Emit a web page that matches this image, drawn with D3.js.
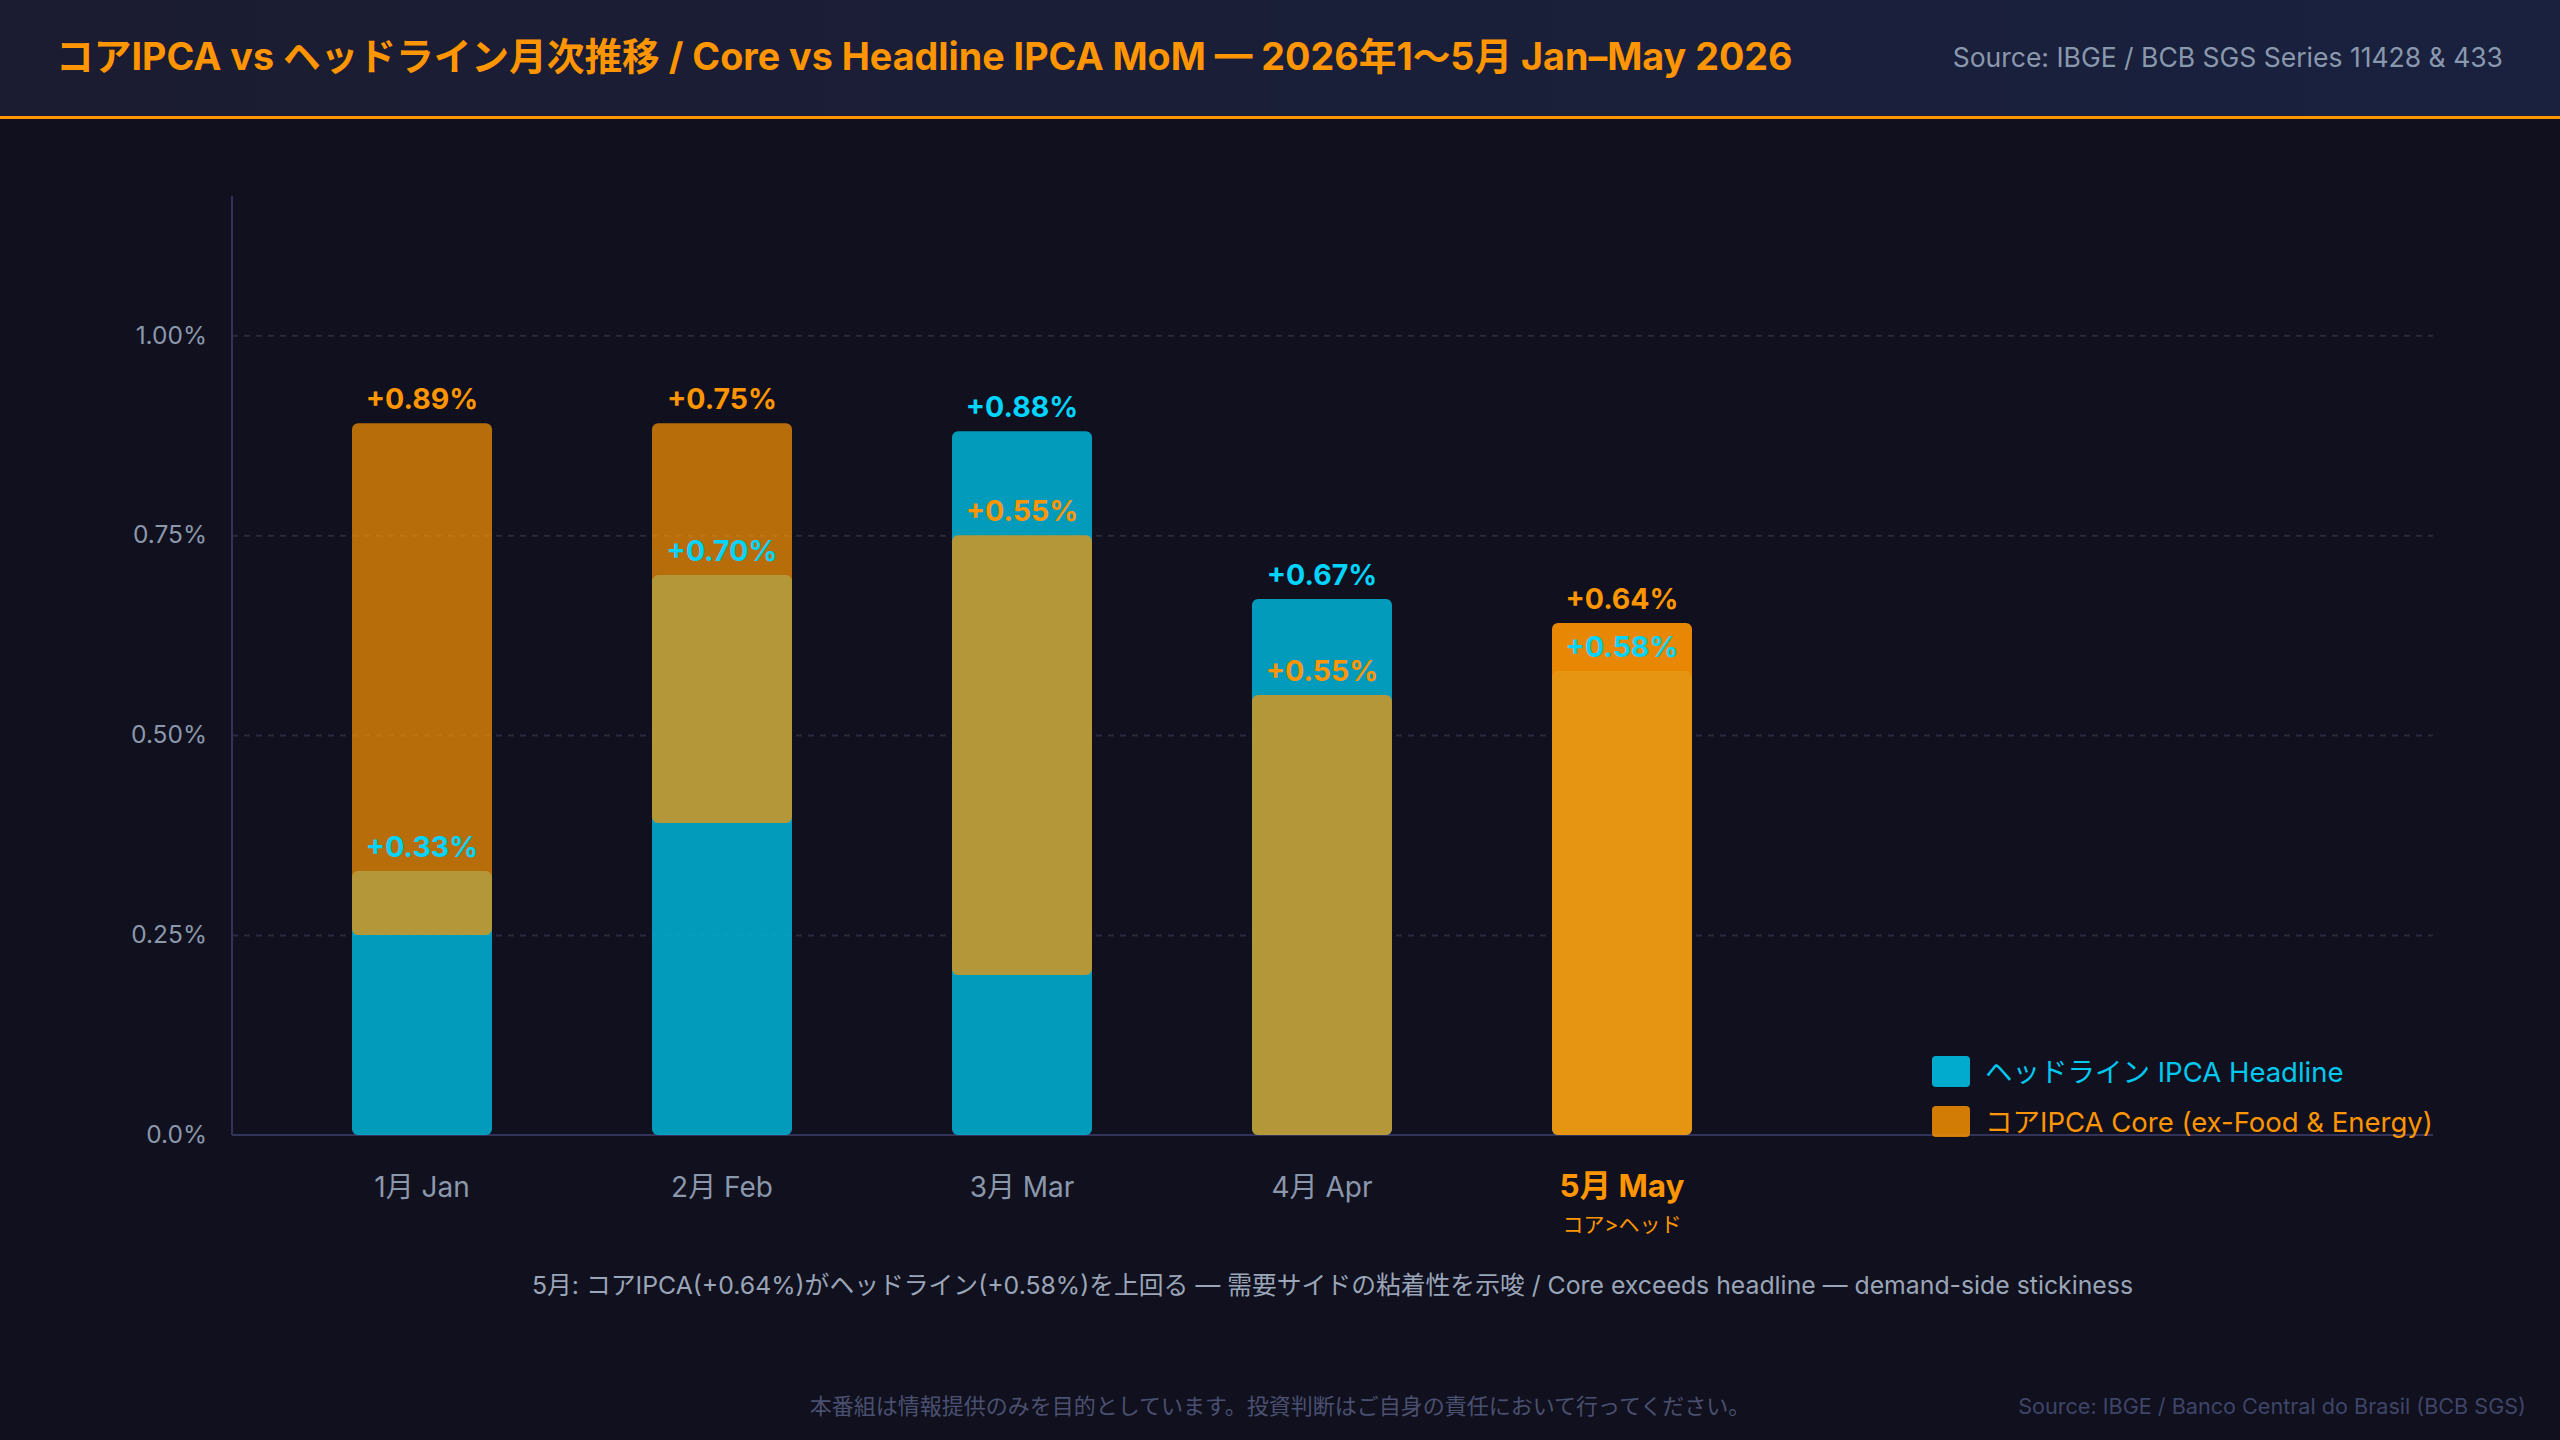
<!DOCTYPE html>
<html>
<head>
<meta charset="utf-8">
<script src="https://cdn.jsdelivr.net/npm/d3@7"></script>
<style>
    html, body { margin: 0; padding: 0; background: #10101e; }
    body { width: 2560px; height: 1440px; overflow: hidden; }
    text { font-family: Inter, "Noto Sans CJK JP", sans-serif; }
</style>
</head>
<body>
<div id="viz"></div>
<script>
"use strict";

// months on the x axis
const months = ["1月 Jan", "2月 Feb", "3月 Mar", "4月 Apr", "5月 May"];
// MoM % values shown in the labels
const headline = [0.33, 0.70, 0.88, 0.67, 0.58];
const core = [0.89, 0.75, 0.55, 0.55, 0.64];
// core bars as they appear in the picture (bottom / top, in %)
const coreBarFrom = [0.25, 0.39, 0.20, 0.00, 0.00];
const coreBarTo = [0.89, 0.89, 0.75, 0.55, 0.64];
// y axis ticks
const yTicks = [0, 0.25, 0.5, 0.75, 1.0];
const yTickLabels = ["0.0%", "0.25%", "0.50%", "0.75%", "1.00%"];

(function(){
    const measurements = {
        width: 2560,
        height: 1440,
        plotLeft: 232,
        plotRight: 2433,
        plotTop: 196,
        plotBottom: 1135
    }
    const colors = {
        bg: "#10101e",
        blue: "#00b4d8",
        blueText: "#00d4ff",
        orange: "#ff9500",
        grid: "#28283f",
        axis: "#33335a",
        tick: "#8b97ab"
    }

    const svg = d3.select("#viz").append("svg")
        .attr("width", measurements.width)
        .attr("height", measurements.height);

    svg.append("rect")
        .attr("width", measurements.width)
        .attr("height", measurements.height)
        .attr("fill", colors.bg);

    drawHeader();
    drawChart();
    drawFooter();

    function drawHeader() {
        const defs = svg.append("defs");
        const grad = defs.append("linearGradient")
            .attr("id", "hdr")
            .attr("x1", "0%").attr("x2", "100%");
        grad.append("stop").attr("offset", "0%").attr("stop-color", "#1b1c31");
        grad.append("stop").attr("offset", "100%").attr("stop-color", "#19213f");

        svg.append("rect")
            .attr("width", measurements.width)
            .attr("height", 116)
            .attr("fill", "url(#hdr)");
        svg.append("rect")
            .attr("y", 116)
            .attr("width", measurements.width)
            .attr("height", 3)
            .attr("fill", colors.orange);

        svg.append("text")
            .attr("x", 56)
            .attr("y", 70)
            .attr("fill", colors.orange)
            .attr("font-size", 37.7)
            .attr("font-weight", 700)
            .text("コアIPCA vs ヘッドライン月次推移 / Core vs Headline IPCA MoM — 2026年1〜5月 Jan–May 2026");

        svg.append("text")
            .attr("x", 2503)
            .attr("y", 67)
            .attr("text-anchor", "end")
            .attr("fill", "#8a98ad")
            .attr("font-size", 26.5)
            .text("Source: IBGE / BCB SGS Series 11428 & 433");
    }

    function drawChart() {
        const x = d3.scaleBand()
            .domain(months)
            .range([272, 1772])
            .paddingInner(0.5333)
            .paddingOuter(0.2667);

        const y = d3.scaleLinear()
            .domain([0, 1.174])
            .range([measurements.plotBottom, measurements.plotTop]);

        // dashed grid
        const grid = svg.append("g")
            .attr("transform", `translate(${measurements.plotLeft},0)`)
            .call(d3.axisLeft(y)
                .tickValues(yTicks.filter(d => d > 0))
                .tickSize(-(measurements.plotRight - measurements.plotLeft))
                .tickFormat(""));
        grid.select(".domain").remove();
        grid.selectAll("line")
            .attr("stroke", colors.grid)
            .attr("stroke-width", 2)
            .attr("stroke-dasharray", "6,6");

        // y axis labels
        const yAxis = svg.append("g")
            .attr("transform", `translate(${measurements.plotLeft},0)`)
            .call(d3.axisLeft(y)
                .tickValues(yTicks)
                .tickSize(0)
                .tickPadding(25)
                .tickFormat((d, i) => yTickLabels[i]));
        yAxis.select(".domain").remove();
        yAxis.selectAll("text")
            .attr("fill", colors.tick)
            .attr("font-size", 24.5)
            .attr("font-family", "Inter, sans-serif");

        // axis lines
        svg.append("line")
            .attr("x1", measurements.plotLeft).attr("x2", measurements.plotLeft)
            .attr("y1", measurements.plotTop).attr("y2", measurements.plotBottom)
            .attr("stroke", colors.axis).attr("stroke-width", 2);
        svg.append("line")
            .attr("x1", measurements.plotLeft).attr("x2", measurements.plotRight)
            .attr("y1", measurements.plotBottom).attr("y2", measurements.plotBottom)
            .attr("stroke", colors.axis).attr("stroke-width", 2);

        const rows = months.map((m, i) => ({
            month: m, head: headline[i], core: core[i],
            from: coreBarFrom[i], to: coreBarTo[i], last: i === months.length - 1
        }));

        // headline bars (back)
        svg.selectAll(".head-bar")
            .data(rows)
            .enter()
            .append("rect")
            .attr("class", "head-bar")
            .attr("x", d => x(d.month))
            .attr("width", x.bandwidth())
            .attr("y", d => y(d.head))
            .attr("height", d => y(0) - y(d.head))
            .attr("rx", 6)
            .attr("fill", colors.blue)
            .attr("fill-opacity", 0.85);

        // core bars (front, translucent)
        svg.selectAll(".core-bar")
            .data(rows)
            .enter()
            .append("rect")
            .attr("class", "core-bar")
            .attr("x", d => x(d.month))
            .attr("width", x.bandwidth())
            .attr("y", d => y(d.to))
            .attr("height", d => y(d.from) - y(d.to))
            .attr("rx", 6)
            .attr("fill", colors.orange)
            .attr("fill-opacity", d => d.last ? 0.9 : 0.7);

        // value labels
        svg.selectAll(".head-label")
            .data(rows)
            .enter()
            .append("text")
            .attr("x", d => x(d.month) + x.bandwidth() / 2)
            .attr("y", d => y(d.head) - 14)
            .attr("text-anchor", "middle")
            .attr("fill", colors.blueText)
            .attr("font-size", 28.5)
            .attr("font-weight", 700)
            .text(d => "+" + d.head.toFixed(2) + "%");

        svg.selectAll(".core-label")
            .data(rows)
            .enter()
            .append("text")
            .attr("x", d => x(d.month) + x.bandwidth() / 2)
            .attr("y", d => y(d.to) - 14)
            .attr("text-anchor", "middle")
            .attr("fill", colors.orange)
            .attr("font-size", 28.5)
            .attr("font-weight", 700)
            .text(d => "+" + d.core.toFixed(2) + "%");

        // x axis labels
        const xAxis = svg.append("g")
            .attr("transform", `translate(0,${measurements.plotBottom})`)
            .call(d3.axisBottom(x).tickSize(0).tickPadding(0));
        xAxis.select(".domain").remove();
        xAxis.selectAll("text")
            .attr("y", 62)
            .attr("dy", 0)
            .attr("font-family", "Inter, 'Noto Sans CJK JP', sans-serif")
            .attr("font-size", (d, i) => i === months.length - 1 ? 31.5 : 28)
            .attr("font-weight", (d, i) => i === months.length - 1 ? 700 : 400)
            .attr("fill", (d, i) => i === months.length - 1 ? colors.orange : colors.tick);

        svg.append("text")
            .attr("x", x(months[months.length - 1]) + x.bandwidth() / 2)
            .attr("y", 1232)
            .attr("text-anchor", "middle")
            .attr("fill", colors.orange)
            .attr("font-size", 21)
            .text("コア>ヘッド");

        // legend
        const legend = [
            {name: "ヘッドライン IPCA Headline", fill: colors.blue, text: "#00c8f0", opacity: 0.95},
            {name: "コアIPCA Core (ex-Food & Energy)", fill: colors.orange, text: colors.orange, opacity: 0.82}
        ];
        const lg = svg.selectAll(".legend")
            .data(legend)
            .enter()
            .append("g")
            .attr("transform", (d, i) => `translate(1932,${1056 + i * 50})`);
        lg.append("rect")
            .attr("width", 38)
            .attr("height", 31)
            .attr("rx", 4)
            .attr("fill", d => d.fill)
            .attr("fill-opacity", d => d.opacity);
        lg.append("text")
            .attr("x", 53)
            .attr("y", 26)
            .attr("fill", d => d.text)
            .attr("font-size", 27.5)
            .text(d => d.name);

        // note under the chart
        svg.append("text")
            .attr("x", (measurements.plotLeft + measurements.plotRight) / 2)
            .attr("y", 1294)
            .attr("text-anchor", "middle")
            .attr("fill", "#9aa5b8")
            .attr("font-size", 24.8)
            .text("5月: コアIPCA(+0.64%)がヘッドライン(+0.58%)を上回る — 需要サイドの粘着性を示唆 / Core exceeds headline — demand-side stickiness");
    }

    function drawFooter() {
        svg.append("text")
            .attr("x", 1280)
            .attr("y", 1414)
            .attr("text-anchor", "middle")
            .attr("fill", "#4b5070")
            .attr("font-size", 22)
            .text("本番組は情報提供のみを目的としています。投資判断はご自身の責任において行ってください。");

        svg.append("text")
            .attr("x", 2526)
            .attr("y", 1414)
            .attr("text-anchor", "end")
            .attr("fill", "#3f4568")
            .attr("font-size", 21.6)
            .text("Source: IBGE / Banco Central do Brasil (BCB SGS)");
    }
})()
</script>
</body>
</html>
